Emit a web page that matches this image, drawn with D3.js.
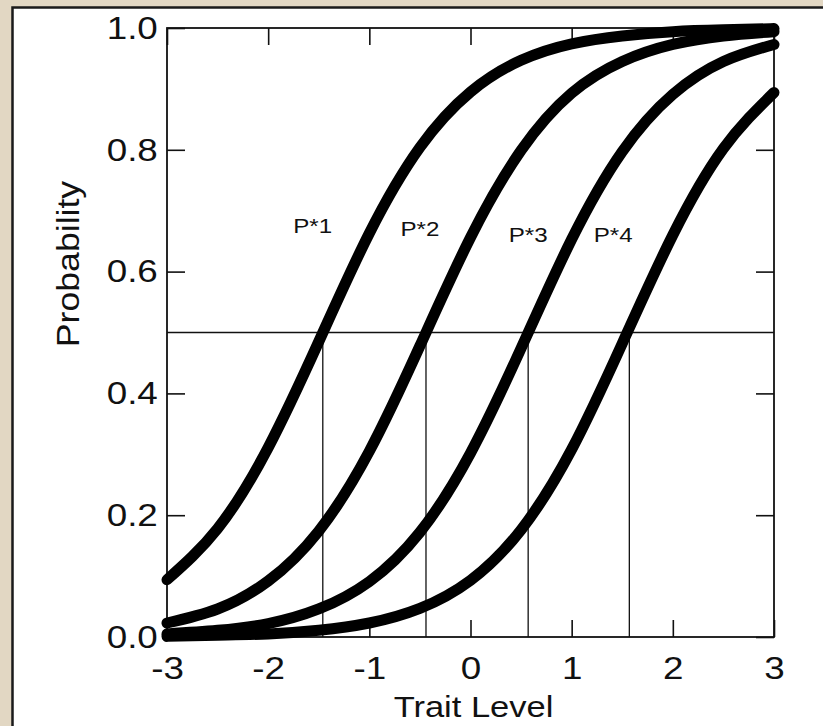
<!DOCTYPE html>
<html lang="en">

<head>
    <meta charset="UTF-8">
    <title>Category Response Curves</title>
    <script src="https://d3js.org/d3.v7.min.js"></script>
    <style>
        html, body {
            margin: 0;
            padding: 0;
            background-color: #e2d7c3;
            overflow: hidden;
        }

        .curve {
            fill: none;
            stroke: #000;
            stroke-width: 11;
            stroke-linecap: round;
            stroke-linejoin: round;
        }

        .guide {
            stroke: #111;
            stroke-width: 1.3;
        }

        text {
            font-family: "Liberation Sans", Arial, sans-serif;
            fill: #111;
        }
    </style>
</head>

<body>
    <div id="chart"></div>

    <script>
        var theta = [-3, -2.5, -2, -1.5, -1, -0.5, 0, 0.5, 1, 1.5, 2, 2.5, 3];

        // Probability read for each boundary curve P*1..P*4
        var pStar1 = [0.094, 0.178, 0.311, 0.485, 0.663, 0.804, 0.895, 0.947, 0.974, 0.987, 0.994, 0.997, 0.999];
        var pStar2 = [0.023, 0.046, 0.092, 0.174, 0.305, 0.478, 0.656, 0.799, 0.893, 0.945, 0.973, 0.987, 0.994];
        var pStar3 = [0.005, 0.011, 0.022, 0.046, 0.091, 0.172, 0.302, 0.474, 0.653, 0.797, 0.891, 0.945, 0.973];
        var pStar4 = [0.001, 0.003, 0.005, 0.011, 0.023, 0.047, 0.093, 0.176, 0.308, 0.482, 0.660, 0.802, 0.894];

        // Where each curve crosses 0.5 (the drop lines)
        var thresholds = [-1.46, -0.44, 0.57, 1.57];

        // Curve labels and where they sit (trait level, probability)
        var curveNames = ["P*1", "P*2", "P*3", "P*4"];
        var labelX = [-1.56, -0.5, 0.57, 1.41];
        var labelY = [0.663, 0.658, 0.649, 0.649];

        // Ticks
        var xTicks = [-3, -2, -1, 0, 1, 2, 3];
        var xTickLabels = ["-3", "-2", "-1", "0", "1", "2", "3"];
        var yTicks = [0, 0.2, 0.4, 0.6, 0.8, 1.0];
        var yTickLabels = ["0.0", "0.2", "0.4", "0.6", "0.8", "1.0"];

        var W = 823, H = 726;
        var plotL = 167, plotR = 774, plotT = 28, plotB = 637;
        var stretch = "scale(1.15,1)";

        var svg = d3.select("#chart")
            .append("svg")
            .attr("width", W)
            .attr("height", H);

        // white panel with dark border
        svg.append("rect")
            .attr("x", 12.5)
            .attr("y", 7.5)
            .attr("width", W)
            .attr("height", H)
            .attr("fill", "#fff")
            .attr("stroke", "#1a1a1a")
            .attr("stroke-width", 2.5);

        var x = d3.scaleLinear().domain([-3, 3]).range([plotL, plotR]);
        var y = d3.scaleLinear().domain([0, 1]).range([plotB, plotT]);

        // Axes (ticks pointing inward)
        var gx = svg.append("g")
            .attr("transform", "translate(0," + plotB + ")")
            .call(d3.axisBottom(x).tickValues(xTicks)
                .tickFormat(function (d, i) {return xTickLabels[i];})
                .tickSizeInner(-17).tickSizeOuter(0).tickPadding(19));

        var gy = svg.append("g")
            .attr("transform", "translate(" + plotL + ",0)")
            .call(d3.axisLeft(y).tickValues(yTicks)
                .tickFormat(function (d, i) {return yTickLabels[i];})
                .tickSizeInner(-18).tickSizeOuter(0).tickPadding(8));

        svg.append("g")
            .attr("transform", "translate(0," + plotT + ")")
            .call(d3.axisTop(x).tickValues(xTicks).tickFormat("")
                .tickSizeInner(-17).tickSizeOuter(0));

        svg.append("g")
            .attr("transform", "translate(" + plotR + ",0)")
            .call(d3.axisRight(y).tickValues(yTicks).tickFormat("")
                .tickSizeInner(-18).tickSizeOuter(0));

        svg.selectAll(".domain").remove();
        svg.selectAll(".tick line")
            .attr("stroke", "#111")
            .attr("stroke-width", 1.6);

        [gx, gy].forEach(function (g) {
            g.attr("font-size", null).attr("font-family", null);
            g.selectAll("text")
                .attr("font-size", 32)
                .attr("fill", "#111")
                .attr("transform", stretch);
        });

        // plot frame
        svg.append("rect")
            .attr("x", plotL)
            .attr("y", plotT)
            .attr("width", plotR - plotL)
            .attr("height", plotB - plotT)
            .attr("fill", "none")
            .attr("stroke", "#111")
            .attr("stroke-width", 1.8);

        // 0.5 reference line and drop lines
        svg.append("line")
            .attr("class", "guide")
            .attr("x1", x(-3)).attr("x2", x(3))
            .attr("y1", y(0.5)).attr("y2", y(0.5));

        svg.selectAll(".drop")
            .data(thresholds)
            .enter().append("line")
            .attr("class", "guide drop")
            .attr("x1", function (d) {return x(d);})
            .attr("x2", function (d) {return x(d);})
            .attr("y1", y(0.5))
            .attr("y2", y(0));

        // the four curves
        var series = [pStar1, pStar2, pStar3, pStar4];
        var line = d3.line()
            .x(function (d, i) {return x(theta[i]);})
            .y(function (d) {return y(d);})
            .curve(d3.curveNatural);

        svg.selectAll(".curve")
            .data(series)
            .enter().append("path")
            .attr("class", "curve")
            .attr("d", line);

        // curve labels
        svg.selectAll(".lab")
            .data(curveNames)
            .enter().append("text")
            .attr("class", "lab")
            .attr("text-anchor", "middle")
            .attr("font-size", 21)
            .attr("transform", function (d, i) {
                return "translate(" + x(labelX[i]) + "," + y(labelY[i]) + ") " + stretch;
            })
            .text(function (d) {return d;});

        // axis titles
        svg.append("text")
            .attr("text-anchor", "middle")
            .attr("font-size", 30)
            .attr("transform", "translate(" + ((plotL + plotR) / 2 + 3) + ",717) " + stretch)
            .text("Trait Level");

        svg.append("text")
            .attr("text-anchor", "middle")
            .attr("font-size", 31)
            .attr("transform", "translate(79,264) rotate(-90) " + stretch)
            .text("Probability");
    </script>
</body>

</html>
